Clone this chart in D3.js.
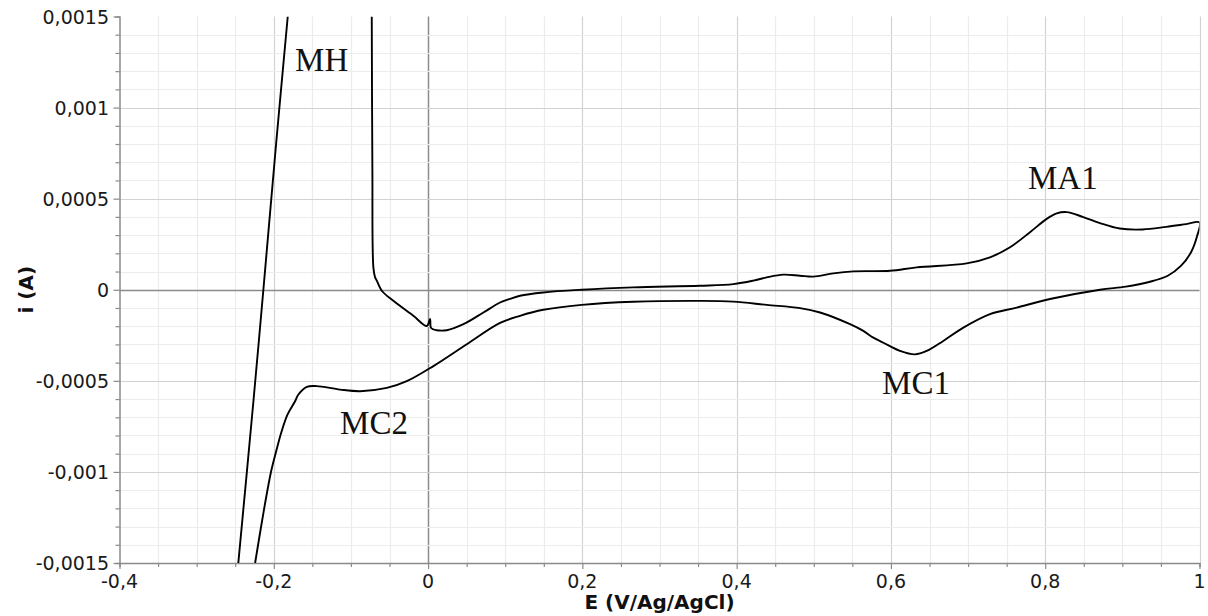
<!DOCTYPE html>
<html>
<head>
<meta charset="utf-8">
<script src="https://cdn.jsdelivr.net/npm/d3@7"></script>
<style>
  html, body { margin: 0; padding: 0; background: #ffffff; }
  svg { display: block; }
</style>
</head>
<body>
<svg id="chart" width="1208" height="616"></svg>
<script>
// ---------- data ----------
const xTickValues = [-0.4, -0.2, 0, 0.2, 0.4, 0.6, 0.8, 1];
const xTickLabels = ["-0,4", "-0,2", "0", "0,2", "0,4", "0,6", "0,8", "1"];
const yTickValues = [-0.0015, -0.001, -0.0005, 0, 0.0005, 0.001, 0.0015];
const yTickLabels = ["-0,0015", "-0,001", "-0,0005", "0", "0,0005", "0,001", "0,0015"];

// steep branch on the left (hydrogen region), from bottom to top
const branchHE = [-0.246, -0.2264, -0.2135, -0.1970, -0.1819];
const branchHI = [-0.0015, -0.000612, 0, 0.00080, 0.0015];

// main loop: descent at -0.07 V, anodic branch to 1 V, cathodic branch back
const loopE = [
  -0.073, -0.0722, -0.0709, -0.0687, -0.0665, -0.060, -0.045, -0.0191, -0.0017,
  0.0026, 0.0039, 0.0113, 0.0242, 0.0458, 0.0717, 0.0933, 0.1063, 0.1192, 0.1494, 0.1992,
  0.2661, 0.3526, 0.3957, 0.4216, 0.439, 0.4605, 0.4822, 0.4994, 0.5253, 0.5513,
  0.5988, 0.6334, 0.6982, 0.7284, 0.7544, 0.7803, 0.8019, 0.8149, 0.8279, 0.8494,
  0.871, 0.8966, 0.9264, 0.9568, 0.9827, 1.0,
  0.997, 0.9892, 0.9762, 0.9589, 0.9358, 0.9046, 0.871, 0.8062, 0.7631, 0.7284,
  0.6939, 0.6679, 0.6464, 0.6312, 0.6118, 0.5902, 0.5772, 0.5642, 0.547, 0.5081,
  0.4822, 0.439, 0.3957, 0.3526, 0.2661, 0.1992, 0.1494, 0.1192, 0.0933, 0.0502,
  0.0069, -0.0276, -0.0535, -0.0881, -0.1141, -0.1443, -0.1572, -0.1681, -0.1724, -0.1821,
  -0.1899, -0.1970, -0.2035, -0.2132, -0.2242
];
const loopI = [
  0.0015, 0.000674, 0.000123, 0.000068, 0.00005, -0.0000055, -0.000061, -0.000143, -0.000199,
  -0.00016, -0.00021, -0.000222, -0.000222, -0.000189, -0.000125, -0.00007, -0.00005, -0.000033, -0.000015, 0,
  0.000013, 0.000022, 0.000031, 0.00005, 0.000068, 0.000083, 0.000077, 0.000072, 0.00009, 0.000101,
  0.000104, 0.000123, 0.000145, 0.000178, 0.000233, 0.000316, 0.000389, 0.000419, 0.000426, 0.000399,
  0.000366, 0.000336, 0.000331, 0.000345, 0.00036, 0.00037,
  0.000296, 0.000207, 0.000132, 0.000077, 0.000044, 0.000017, 0.0, -0.000051, -0.000098, -0.000134,
  -0.000208, -0.000281, -0.000336, -0.000355, -0.000336, -0.000291, -0.000263, -0.000226, -0.000189, -0.000125,
  -0.000101, -0.000083, -0.000065, -0.000061, -0.000066, -0.000083, -0.00011, -0.000143, -0.000182, -0.000299,
  -0.000419, -0.000502, -0.000539, -0.000557, -0.000548, -0.000529, -0.000533, -0.000575, -0.000612, -0.000684,
  -0.000778, -0.000888, -0.000998, -0.001219, -0.0015
];

// peak annotations (label, anchor potential, anchor current)
const peakNames = ["MH", "MA1", "MC1", "MC2"];
const peakE = [-0.1724, 0.7777, 0.5885, -0.1141];
const peakI = [0.001202, 0.000551, -0.000574, -0.000794];

// ---------- layout ----------
const svg = d3.select("#chart");
const x = d3.scaleLinear().domain([-0.4, 1]).range([119.5, 1199.5]);
const y = d3.scaleLinear().domain([-0.0015, 0.0015]).range([563, 16.5]);

const minorX = d3.range(-0.4, 1.0001, 0.05).map(v => +v.toFixed(2));
const minorY = d3.range(-15, 16, 1).map(k => +(k * 0.0001).toFixed(4));
const isMajorX = v => Math.abs(v / 0.2 - Math.round(v / 0.2)) < 1e-6;
const isMajorY = v => Math.abs(v / 0.0005 - Math.round(v / 0.0005)) < 1e-6;

svg.append("defs").append("clipPath").attr("id", "plotClip")
  .append("rect")
  .attr("x", x(-0.4)).attr("y", y(0.0015))
  .attr("width", x(1) - x(-0.4)).attr("height", y(-0.0015) - y(0.0015));

const grid = svg.append("g");
// vertical grid lines
grid.selectAll("line.vx").data(minorX.filter(v => v > -0.4 + 1e-9)).enter().append("line")
  .attr("x1", d => Math.round(x(d)) + 0.5).attr("x2", d => Math.round(x(d)) + 0.5)
  .attr("y1", y(0.0015)).attr("y2", y(-0.0015))
  .attr("stroke", d => Math.abs(d) < 1e-9 ? "#8c8c8c" : (isMajorX(d) ? "#d2d2d2" : "#ececec"))
  .attr("stroke-width", d => Math.abs(d) < 1e-9 ? 1.5 : 1.2);
// horizontal grid lines
grid.selectAll("line.hy").data(minorY.filter(v => v > -0.0015 + 1e-9 && v < 0.0015 - 1e-9)).enter().append("line")
  .attr("x1", x(-0.4)).attr("x2", x(1))
  .attr("y1", d => Math.round(y(d)) + 0.5).attr("y2", d => Math.round(y(d)) + 0.5)
  .attr("stroke", d => Math.abs(d) < 1e-9 ? "#8c8c8c" : (isMajorY(d) ? "#d2d2d2" : "#ececec"))
  .attr("stroke-width", d => Math.abs(d) < 1e-9 ? 1.5 : 1.2);

// ---------- axes ----------
const axisColor = "#8a8a8a";
const fontTick = "'DejaVu Sans', Verdana, sans-serif";

// left axis
const yAxisG = svg.append("g").attr("transform", `translate(${x(-0.4)},0)`)
  .call(d3.axisLeft(y).tickValues(minorY).tickSize(4).tickFormat(""));
yAxisG.select(".domain").attr("stroke", axisColor).attr("stroke-width", 1.5);
yAxisG.selectAll(".tick line").attr("stroke", axisColor).attr("stroke-width", 1.2)
  .attr("x2", d => isMajorY(d) ? -6 : -4);
svg.append("g").selectAll("text").data(yTickValues).enter().append("text")
  .attr("x", 109).attr("y", d => y(d) + 7)
  .attr("text-anchor", "end")
  .attr("font-family", fontTick).attr("font-size", 19).attr("fill", "#1a1a1a")
  .text((d, i) => yTickLabels[i]);

// bottom axis
const xAxisG = svg.append("g").attr("transform", `translate(0,${y(-0.0015)})`)
  .call(d3.axisBottom(x).tickValues(minorX).tickSize(4).tickFormat(""));
xAxisG.select(".domain").attr("stroke", axisColor).attr("stroke-width", 1.5);
xAxisG.selectAll(".tick line").attr("stroke", axisColor).attr("stroke-width", 1.2)
  .attr("y2", d => isMajorX(d) ? 6 : 4);
svg.append("g").selectAll("text").data(xTickValues).enter().append("text")
  .attr("x", d => x(d)).attr("y", 588)
  .attr("text-anchor", "middle")
  .attr("font-family", fontTick).attr("font-size", 19).attr("fill", "#1a1a1a")
  .text((d, i) => xTickLabels[i]);

// axis titles
svg.append("text")
  .attr("x", (x(-0.4) + x(1)) / 2).attr("y", 609)
  .attr("text-anchor", "middle")
  .attr("font-family", fontTick).attr("font-size", 20).attr("font-weight", "bold")
  .attr("fill", "#111")
  .text("E (V/Ag/AgCl)");
svg.append("text")
  .attr("transform", `translate(33,${y(0)}) rotate(-90)`)
  .attr("text-anchor", "middle")
  .attr("font-family", fontTick).attr("font-size", 20).attr("font-weight", "bold")
  .attr("fill", "#111")
  .text("i (A)");

// ---------- curves ----------
const line = d3.line().x(d => x(d[0])).y(d => y(d[1])).curve(d3.curveCatmullRom.alpha(0.5));
const plot = svg.append("g").attr("clip-path", "url(#plotClip)");
const series = [
  branchHE.map((e, i) => [e, branchHI[i]]),
  loopE.map((e, i) => [e, loopI[i]])
];
plot.selectAll("path.cv").data(series).enter().append("path")
  .attr("d", line)
  .attr("fill", "none")
  .attr("stroke", "#000")
  .attr("stroke-width", 1.9)
  .attr("stroke-linejoin", "round");

// ---------- annotations ----------
svg.append("g").selectAll("text").data(peakNames).enter().append("text")
  .attr("x", (d, i) => x(peakE[i])).attr("y", (d, i) => y(peakI[i]))
  .attr("font-family", "'Liberation Serif', 'Times New Roman', serif")
  .attr("font-size", 33).attr("fill", "#111")
  .text(d => d);
</script>
</body>
</html>
